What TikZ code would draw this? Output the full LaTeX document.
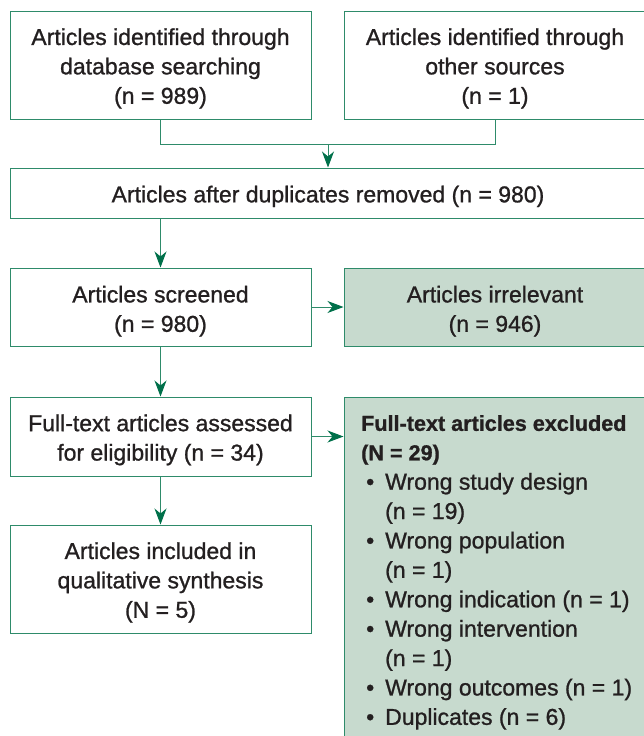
\documentclass[tikz,border=0pt]{standalone}
\usepackage{fontspec}
\setmainfont{Liberation Sans}[RawFeature={embolden=1.0}]
\usetikzlibrary{arrows.meta}
\definecolor{bord}{HTML}{2E8B6A}
\definecolor{arrc}{HTML}{00704A}
\definecolor{fillg}{HTML}{C7DACE}
\definecolor{txt}{HTML}{231F20}
\newcommand{\mybul}{\hspace*{5pt}\makebox[19pt][l]{\textbullet}}
\newcommand{\myind}{\hspace*{24pt}}
\newcommand{\mybold}[1]{{\bfseries\fontsize{21.6}{29.4}\selectfont #1}}
\newcommand{\mystrut}{\rule{0pt}{23.5pt}}
\begin{document}
\begin{tikzpicture}[x=1pt,y=-1pt,
  box/.style={draw=bord, line width=1pt, fill=white, inner sep=0pt, align=center,
    text=txt, font=\fontsize{23}{29.4}\selectfont},
  grn/.style={box, fill=fillg},
  gtext/.style={inner sep=0pt, align=left, text=txt, font=\fontsize{23}{29.4}\selectfont},
  ln/.style={draw=bord, line width=1pt},
  arr/.style={ln, -{Stealth[length=16pt,width=12pt,inset=5pt,color=arrc]}}]
\useasboundingbox (0,0) rectangle (643,736);
\node[box, minimum width=301pt, minimum height=108pt] (a) at (160.5,65)
  {\mystrut Articles identified through\\database searching\\(n = 989)};
\node[box, minimum width=302pt, minimum height=108pt] (b) at (495,65)
  {\mystrut Articles identified through\\other sources\\(n = 1)};
\node[box, minimum width=636pt, minimum height=50pt] (c) at (328,193)
  {\mystrut Articles after duplicates removed (n = 980)};
\node[box, minimum width=301pt, minimum height=78pt] (d) at (160.5,307)
  {\rule{0pt}{25pt}Articles screened\\(n = 980)};
\node[grn, minimum width=302pt, minimum height=78pt] (e) at (495,307)
  {\rule{0pt}{25pt}Articles irrelevant\\(n = 946)};
\node[box, minimum width=301pt, minimum height=79pt] (f) at (160.5,436.5)
  {\mystrut Full-text articles assessed\\for eligibility (n = 34)};
\node[grn, minimum width=302pt, minimum height=348pt] (g) at (495,571) {};
\node[gtext, anchor=north west] (gt) at (361,415) {%
\mybold{Full-text articles excluded}\\
\mybold{(N = 29)}\\
\mybul Wrong study design\\
\myind (n = 19)\\
\mybul Wrong population\\
\myind (n = 1)\\
\mybul Wrong indication (n = 1)\\
\mybul Wrong intervention\\
\myind (n = 1)\\
\mybul Wrong outcomes (n = 1)\\
\mybul Duplicates (n = 6)};
\node[box, minimum width=301pt, minimum height=108pt] (h) at (160.5,579)
  {\mystrut Articles included in\\qualitative synthesis\\(N = 5)};
\coordinate (j) at (c.north |- 0,144);
\draw[ln] (a.south) -- (a.south |- j) -- (b.south |- j) -- (b.south);
\draw[arr] (j) -- (c.north);
\draw[arr] (c.south -| d.north) -- (d.north);
\draw[arr] (d.east) -- (e.west);
\draw[arr] (d.south) -- (f.north);
\draw[arr] (f.east) -- (f.east -| g.west);
\draw[arr] (f.south) -- (h.north);
\end{tikzpicture}
\end{document}
